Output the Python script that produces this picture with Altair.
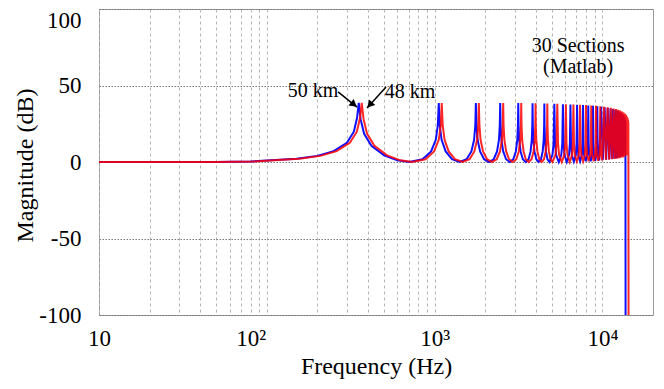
import altair as alt
import pandas as pd

# ---------------- data ----------------
blue_freq = [
    10, 50, 80, 100, 150, 200, 250, 300, 330, 345, 350, 353.0, 356, 362, 380, 420, 500, 600, 705.5,
    846.6, 952.3, 1015.8, 1044.0, 1058.1, 1072.1, 1100.2, 1163.4, 1268.7, 1409.2,
    1549.7, 1655.0, 1718.2, 1746.3, 1760.3, 1774.3, 1802.2, 1865.0, 1969.6, 2109.1,
    2248.6, 2353.3, 2416.0, 2443.9, 2457.9, 2471.7, 2499.4, 2561.6, 2665.2, 2803.5,
    2941.7, 3045.3, 3107.5, 3135.2, 3149.0, 3162.7, 3190.0, 3251.4, 3353.8, 3490.4,
    3627.0, 3729.4, 3790.8, 3818.1, 3831.8, 3845.3, 3872.2, 3932.7, 4033.6, 4168.1,
    4302.5, 4403.4, 4463.9, 4490.8, 4504.3, 4517.5, 4543.9, 4603.4, 4702.5, 4834.6,
    5032.8, 5112.1, 5164.9, 5216.7, 5294.3, 5488.4,
    5682.5, 5760.1, 5811.9, 5862.4, 5938.2, 6127.7,
    6317.1, 6392.9, 6443.4, 6492.6, 6566.3, 6750.6,
    6934.9, 7008.7, 7057.8, 7105.5, 7176.9, 7355.7,
    7534.4, 7605.8, 7653.5, 7699.5, 7768.6, 7941.2,
    8113.8, 8182.9, 8228.9, 8273.2, 8339.6, 8505.8,
    8671.9, 8738.3, 8782.6, 8825.0, 8888.7, 9047.8,
    9206.8, 9270.5, 9312.9, 9353.3, 9414.0, 9565.7,
    9818.5, 10058.3, 10298.0, 10524.2, 10750.3, 10962.2, 11174.0, 11371.1, 11568.2, 11749.9,
    11931.6, 12097.5, 12263.4, 12413.1, 12562.7, 12695.7, 12828.7, 12944.7, 13060.6, 13159.3,
    13258.0, 13339.1, 13420.1, 13483.4, 13546.7, 13592.0, 13637.3, 13664.6, 13691.8, 13705, 13740,
]

red_freq = [
    10, 50, 83.3, 104.2, 156.3, 208.3, 260.4, 312.5, 343.8, 359.4, 364.6, 367.7, 370.8, 377.1, 395.8, 437.5, 520.8, 625.0, 734.9,
    881.9, 992.0, 1058.1, 1087.5, 1102.2, 1116.8, 1146.0, 1211.9, 1321.6, 1467.9,
    1614.3, 1724.0, 1789.8, 1819.1, 1833.6, 1848.2, 1877.3, 1942.7, 2051.7, 2197.0,
    2342.3, 2451.4, 2516.7, 2545.7, 2560.3, 2574.7, 2603.5, 2668.3, 2776.3, 2920.3,
    3064.3, 3172.2, 3237.0, 3265.8, 3280.2, 3294.5, 3322.9, 3386.9, 3493.5, 3635.8,
    3778.1, 3884.8, 3948.8, 3977.2, 3991.5, 4005.5, 4033.5, 4096.6, 4201.7, 4341.8,
    4481.8, 4586.9, 4649.9, 4677.9, 4692.0, 4705.7, 4733.2, 4795.2, 4898.4, 5036.0,
    5242.5, 5325.1, 5380.1, 5434.1, 5514.9, 5717.1,
    5919.3, 6000.1, 6054.1, 6106.7, 6185.6, 6383.0,
    6580.3, 6659.3, 6711.9, 6763.1, 6839.9, 7031.9,
    7223.9, 7300.7, 7351.9, 7401.6, 7475.9, 7662.2,
    7848.3, 7922.7, 7972.4, 8020.3, 8092.3, 8272.1,
    8451.9, 8523.8, 8571.8, 8617.9, 8687.1, 8860.2,
    9033.2, 9102.4, 9148.5, 9192.7, 9259.1, 9424.8,
    9590.4, 9656.8, 9701.0, 9743.0, 9806.3, 9964.3,
    10227.6, 10477.4, 10727.1, 10962.7, 11198.2, 11419.0, 11639.6, 11844.9, 12050.2, 12239.5,
    12428.7, 12601.6, 12774.4, 12930.3, 13086.1, 13224.7, 13363.2, 13484.1, 13604.8, 13707.6,
    13810.4, 13894.9, 13979.3, 14045.2, 14111.2, 14158.3, 14205.5, 14234.0, 14262.3, 14276, 14313,
]

mag_db = [
    0, 0, 0.3, 0.9, 2.1, 4.0, 7.1, 12.6, 19.8, 28.9, 35.0, 38.6, 35.0, 28.0, 18.4, 10.6, 4.3, 1.1, 0.0,
    1.8, 6.9, 14.5, 23.9, 38.5, 23.9, 14.5, 6.9, 1.8, 0.0,
    1.8, 6.9, 14.5, 23.9, 38.5, 23.9, 14.5, 6.9, 1.8, 0.0,
    1.8, 6.9, 14.5, 23.9, 38.5, 23.9, 14.5, 6.9, 1.8, 0.0,
    1.8, 6.9, 14.5, 23.9, 38.5, 23.9, 14.5, 6.9, 1.8, 0.0,
    1.8, 6.9, 14.5, 23.9, 38.4, 23.9, 14.5, 6.9, 1.8, 0.0,
    1.8, 6.9, 14.5, 23.9, 38.2, 23.9, 14.5, 6.9, 1.8, 0.0,
    4.6, 12.1, 38.0, 12.1, 4.6, 0.0,
    4.6, 12.1, 37.8, 12.1, 4.6, 0.0,
    4.6, 12.1, 37.6, 12.1, 4.6, 0.3,
    4.6, 12.1, 37.4, 12.1, 4.6, 0.5,
    4.6, 12.1, 37.2, 12.1, 4.6, 0.5,
    4.6, 12.1, 37.0, 12.1, 4.6, 0.5,
    4.6, 12.1, 36.7, 12.1, 4.6, 0.8,
    4.6, 12.1, 36.4, 12.1, 4.6, 1.0,
    36.1, 1.5, 35.8, 1.5, 35.4, 1.8, 35.0, 2.0, 34.6, 2.2,
    34.1, 2.5, 33.6, 3.0, 33.0, 3.0, 32.4, 3.5, 31.6, 4.0,
    30.8, 4.5, 29.8, 5.0, 28.7, 5.5, 27.5, 6.0, 26.0, 0.0, -150,
]

x_grid_values = [10, 20, 30, 40, 50, 60, 70, 80, 90,
                 100, 200, 300, 400, 500, 600, 700, 800, 900,
                 1000, 2000, 3000, 4000, 5000, 6000, 7000, 8000, 9000, 10000]
y_tick_values = [-100, -50, 0, 50, 100]

note_text = ["50 km", "48 km", "30 Sections", "(Matlab)"]
note_freq = [188.5, 713.6, 7154, 7154]
note_db = [46.4, 45.8, 75.8, 62.1]

arrow_freq = [265.7, 513.3]
arrow_db = [45.8, 49.0]
arrow_freq2 = [344.7, 395.5]
arrow_db2 = [35.9, 35.3]
head_freq = [330.5, 410.4]
head_db = [37.6, 37.3]
head_angle = [128, 222]

# ---------------- tables ----------------
df_blue = pd.DataFrame({"f": blue_freq, "db": mag_db})
df_red = pd.DataFrame({"f": red_freq, "db": mag_db})
df_note = pd.DataFrame({"f": note_freq, "db": note_db, "label": note_text})
df_arrow = pd.DataFrame({"f": arrow_freq, "db": arrow_db, "f2": arrow_freq2, "db2": arrow_db2})
df_head = pd.DataFrame({"f": head_freq, "db": head_db, "ang": head_angle})

FONT = "Liberation Serif"

xscale = alt.Scale(type="log", domain=[10, 20000], nice=False)
yscale = alt.Scale(domain=[-100, 100], nice=False)

xaxis = alt.Axis(
    values=x_grid_values,
    labelExpr="datum.value == 10 ? '10' : datum.value == 100 ? '10²' : datum.value == 1000 ? '10³' : datum.value == 10000 ? '10⁴' : ''",
    labelOverlap=False,
    labelFlush=False,
    labelFont=FONT,
    labelFontSize=23,
    labelColor="black",
    labelPadding=12,
    labelOffset={"condition": {"test": "datum.value === 100", "value": -16}, "value": 0},
    grid=True,
    gridDash=[3, 3],
    gridColor="#b4b4b4",
    gridWidth=1,
    tickSize=0,
    ticks=False,
    domain=False,
    title="Frequency (Hz)",
    titleFont=FONT,
    titleFontSize=24,
    titleFontWeight="normal",
    titleColor="black",
    titleBaseline="middle",
    titleY=51,
)

yaxis = alt.Axis(
    values=y_tick_values,
    labelExpr="datum.value < 0 ? '-' + abs(datum.value) : '' + datum.value",
    labelFont=FONT,
    labelFontSize=23,
    labelColor="black",
    labelPadding=18,
    labelFlush=False,
    labelOffset={"condition": {"test": "datum.value === 100", "value": 11}, "value": 0},
    grid=True,
    gridDash=[1.5, 1.5],
    gridColor="#7a7a7a",
    gridWidth=1,
    tickSize=0,
    ticks=False,
    domain=False,
    title="Magnitude (dB)",
    titleFont=FONT,
    titleFontSize=24,
    titleFontWeight="normal",
    titleColor="black",
    titleAngle=-90,
    titleAlign="center",
    titleBaseline="middle",
    titleX=-74,
    titleY=156,
)

X = alt.X("f:Q", scale=xscale, axis=xaxis)
Y = alt.Y("db:Q", scale=yscale, axis=yaxis)

blue = alt.Chart(df_blue).mark_line(color="#1010ff", strokeWidth=2, clip=True).encode(x=X, y=Y)
red = alt.Chart(df_red).mark_line(color="#ff0000", strokeWidth=2, clip=True, opacity=0.85).encode(x=X, y=Y)

notes = alt.Chart(df_note).mark_text(
    font=FONT, fontSize=20, color="black", align="center", baseline="middle"
).encode(x=X, y=Y, text="label:N")

shafts = alt.Chart(df_arrow).mark_rule(color="black", strokeWidth=1.5).encode(
    x=X, y=Y, x2="f2:Q", y2="db2:Q"
)

heads = alt.Chart(df_head).mark_point(
    shape="triangle-up", filled=True, size=70, color="black", opacity=1
).encode(x=X, y=Y, angle=alt.Angle("ang:Q", scale=None))

chart = (
    alt.layer(blue, red, shafts, heads, notes)
    .properties(
        width=554,
        height=306,
        autosize=alt.AutoSizeParams(type="none"),
        padding={"left": 91, "top": 1, "right": 3, "bottom": 64},
        background="white",
    )
    .configure_view(stroke="#9a9a9a", strokeWidth=1)
)

chart.save("out.html", embed_options={"renderer": "svg", "actions": False})
